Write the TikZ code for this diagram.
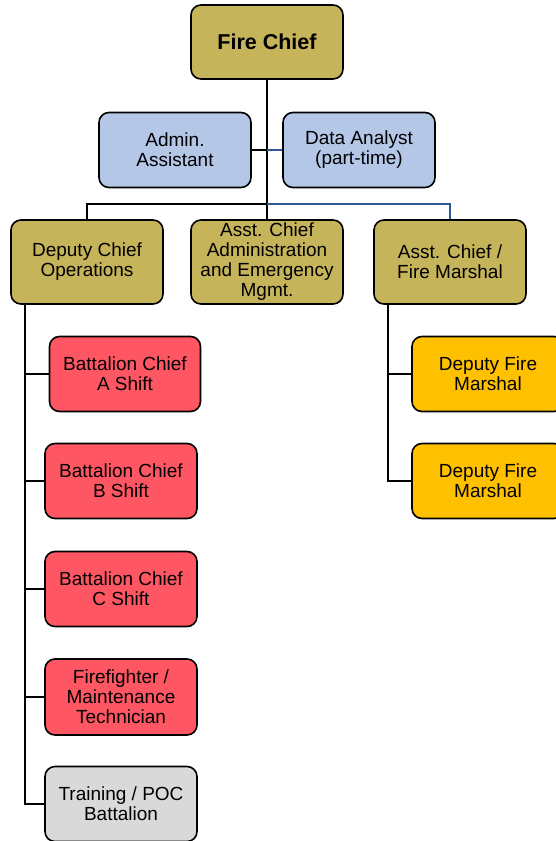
\documentclass[tikz,border=0pt]{standalone}
\usepackage{fontspec}
\setmainfont{Liberation Sans}
\usetikzlibrary{positioning}

\definecolor{chiefgold}{RGB}{198,180,90}
\definecolor{staffblue}{RGB}{180,199,231}
\definecolor{shiftred}{RGB}{255,86,99}
\definecolor{fmorange}{RGB}{255,192,0}
\definecolor{pocgray}{RGB}{217,217,217}
\definecolor{linkblue}{RGB}{47,85,151}

\begin{document}
\begin{tikzpicture}[x=1pt,y=-1pt,
    box/.style={draw,line width=1.6pt,rounded corners=10pt,align=center,
      minimum width=152pt,minimum height=75pt,inner sep=2pt,
      font=\fontsize{19}{20}\selectfont},
    link/.style={line width=1.6pt,black},
    bluelink/.style={line width=1.2pt,linkblue}]
    \useasboundingbox (0,0) rectangle (555,841);

    \node [box,fill=chiefgold,minimum height=74pt,font=\fontsize{21.5}{23}\bfseries] (chief) at (267,42) {Fire Chief};

    \node [box,fill=staffblue] (admin) at (175,150) {Admin.\\Assistant};
    \node [box,fill=staffblue] (analyst) at (359,150) {Data Analyst\\(part-time)};

    \node [box,fill=chiefgold,minimum height=84pt] (ops) at (87,262) {Deputy Chief\\Operations};
    \node [box,fill=chiefgold,minimum height=84pt] (acadmin) at (267,262) {Asst. Chief\\Administration\\and Emergency\\Mgmt.};
    \node [box,fill=chiefgold,minimum height=84pt] (marshal) at (450,262) {Asst. Chief /\\Fire Marshal};

    \node [box,fill=shiftred,minimum width=151pt] (bcA) at (125,374) {Battalion Chief\\A Shift};
    \node [box,fill=shiftred] (bcB) at (121,481) {Battalion Chief\\B Shift};
    \node [box,fill=shiftred] (bcC) at (121,589) {Battalion Chief\\C Shift};
    \node [box,fill=shiftred,minimum height=76pt] (ffm) at (121,697) {Firefighter /\\Maintenance\\Technician};
    \node [box,fill=pocgray] (poc) at (121,804) {Training / POC\\Battalion};

    \node [box,fill=fmorange] (dfmA) at (488,374) {Deputy Fire\\Marshal};
    \node [box,fill=fmorange] (dfmB) at (488,481) {Deputy Fire\\Marshal};

    % chief down to the second row
    \coordinate (bar) at (267,204);
    \draw [link] (chief.south) -- (acadmin.north);
    \draw [link] (admin.east) -- (admin.east -| chief.south);
    \draw [link] (bar) -| (ops.north);
    \draw [bluelink] (analyst.west) -- (analyst.west -| chief.south);
    \draw [bluelink] (bar) -| (marshal.north);

    % spines under the deputy chief and fire marshal
    \coordinate (opsspine) at ([xshift=15pt]ops.south west);
    \coordinate (fmspine) at ([xshift=15pt]marshal.south west);
    \foreach \n in {bcA,bcB,bcC,ffm,poc}
      \draw [link] (opsspine) |- (\n.west);
    \foreach \n in {dfmA,dfmB}
      \draw [link] (fmspine) |- (\n.west);
\end{tikzpicture}
\end{document}
